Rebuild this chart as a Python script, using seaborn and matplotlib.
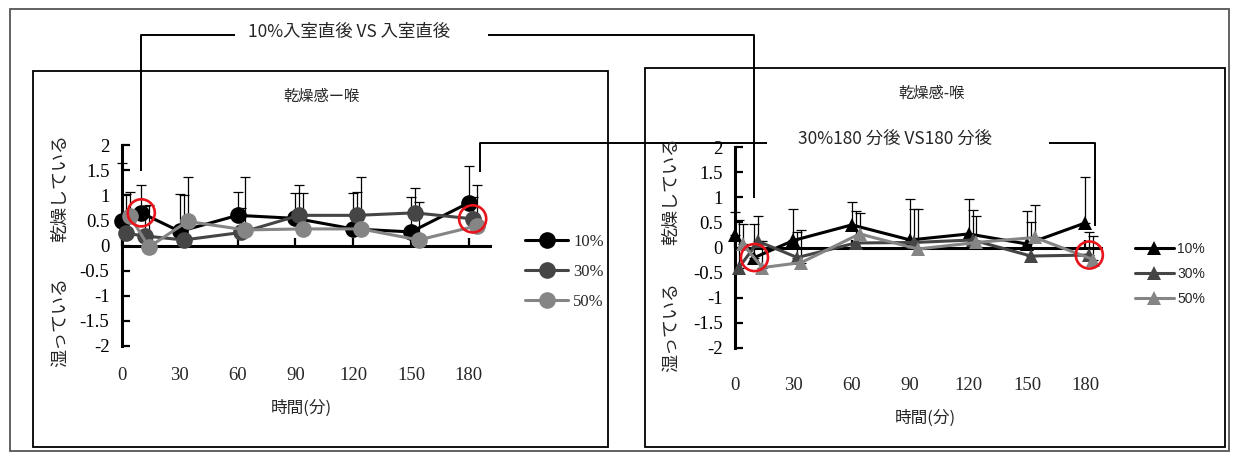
import numpy as np
import pandas as pd
import matplotlib
matplotlib.use("Agg")
import matplotlib.pyplot as plt
from matplotlib.lines import Line2D
from matplotlib.patches import Rectangle
import seaborn as sns

# ---- data -----------------------------------------------------------------
groups = ["10%", "30%", "50%"]

# measurement times (min); the three humidity groups are slightly staggered
time_10 = [0, 10, 30, 60, 90, 120, 150, 180]
time_30 = [2, 12, 32, 62, 92, 122, 152, 182]
time_50 = [4, 14, 34, 64, 94, 124, 154, 184]

# left panel (circles): mean score and SD
left_10 = [0.48, 0.65, 0.28, 0.60, 0.54, 0.33, 0.27, 0.85]
left_30 = [0.24, 0.19, 0.11, 0.26, 0.60, 0.60, 0.65, 0.53]
left_50 = [0.59, -0.03, 0.48, 0.31, 0.33, 0.33, 0.11, 0.39]
left_sd_10 = [1.16, 0.56, 0.74, 0.47, 0.50, 0.72, 0.70, 0.74]
left_sd_30 = [0.78, 0.60, 0.90, 0.48, 0.61, 0.47, 0.50, 0.44]
left_sd_50 = [0.48, 0.84, 0.88, 1.05, 0.71, 1.03, 0.76, 0.81]

# right panel (triangles): mean score and SD
right_10 = [0.25, -0.20, 0.14, 0.45, 0.15, 0.27, 0.07, 0.49]
right_30 = [-0.40, 0.12, -0.20, 0.09, 0.10, 0.15, -0.17, -0.15]
right_50 = [0.07, -0.40, -0.30, 0.27, -0.03, 0.10, 0.20, -0.24]
right_sd_10 = [0.46, 0.67, 0.63, 0.45, 0.81, 0.70, 0.66, 0.92]
right_sd_30 = [0.94, 0.50, 0.50, 0.64, 0.67, 0.60, 0.68, 0.45]
right_sd_50 = [0.40, 0.53, 0.65, 0.42, 0.80, 0.52, 0.65, 0.47]

x_ticks = [0, 30, 60, 90, 120, 150, 180]
y_ticks = [-2, -1.5, -1, -0.5, 0, 0.5, 1, 1.5, 2]

panel_title_left = "乾燥感ー喉"
panel_title_right = "乾燥感-喉"
x_label = "時間(分)"
y_label_dry = "乾燥している"
y_label_wet = "湿っている"
note_entry = "10%入室直後 VS 入室直後"
note_180 = "30%180 分後 VS180 分後"

times = {"10%": time_10, "30%": time_30, "50%": time_50}
left_df = pd.concat([
    pd.DataFrame({"group": g, "time": times[g], "score": m, "sd": s})
    for g, m, s in zip(groups, [left_10, left_30, left_50],
                       [left_sd_10, left_sd_30, left_sd_50])
])
right_df = pd.concat([
    pd.DataFrame({"group": g, "time": times[g], "score": m, "sd": s})
    for g, m, s in zip(groups, [right_10, right_30, right_50],
                       [right_sd_10, right_sd_30, right_sd_50])
])

# ---- style ----------------------------------------------------------------
sns.set_style("white")
plt.rcParams["font.family"] = ["Noto Sans CJK JP", "DejaVu Sans"]
plt.rcParams["axes.unicode_minus"] = False
SERIF = ["Liberation Serif", "DejaVu Serif"]
SANS = ["Liberation Sans", "DejaVu Sans"]
CJK = ["Noto Sans CJK JP", "DejaVu Sans"]
palette = {"10%": "#000000", "30%": "#454545", "50%": "#858585"}

W, H = 1238, 459
fig = plt.figure(figsize=(W / 100, H / 100), dpi=100)
fig.patch.set_facecolor("white")


def P(x, y):
    """pixel position (from top-left) -> figure fraction"""
    return x / W, 1 - y / H


def rect(left, top, right, bottom):
    return [left / W, 1 - bottom / H, (right - left) / W, (bottom - top) / H]


def fig_line(xs, ys, **kw):
    pts = [P(x, y) for x, y in zip(xs, ys)]
    fig.add_artist(Line2D([p[0] for p in pts], [p[1] for p in pts],
                          transform=fig.transFigure, color="black",
                          lw=1.4, solid_capstyle="butt", **kw))


def to_px(ax, x, y):
    dx, dy = ax.transData.transform((x, y))
    return dx, H - dy


def draw_panel(ax, df, marker, ms, xmax, label_drop):
    ax.set_xlim(0, xmax)
    ax.set_ylim(-2, 2)
    for g in groups:
        d = df[df["group"] == g]
        eb = ax.errorbar(d["time"], d["score"],
                         yerr=[np.zeros(len(d)), d["sd"]], fmt="none",
                         ecolor="black", elinewidth=0.9, capsize=3.6,
                         capthick=0.9, zorder=2)
        for art in eb.get_children():
            art.set_clip_on(False)
    for i, g in enumerate(groups):
        d = df[df["group"] == g]
        sns.lineplot(data=d, x="time", y="score", ax=ax, color=palette[g],
                     marker=marker, markersize=ms, markeredgewidth=0,
                     lw=2.2, legend=False, zorder=3 + i, clip_on=False)
    for side in ["top", "right"]:
        ax.spines[side].set_visible(False)
    ax.spines["left"].set_linewidth(2.2)
    ax.spines["left"].set_color("black")
    ax.spines["bottom"].set_position(("data", 0))
    ax.spines["bottom"].set_linewidth(2.2)
    ax.spines["bottom"].set_color("black")
    ax.set_yticks(y_ticks)
    ax.set_yticklabels([f"{v:g}" for v in y_ticks], fontfamily=SERIF,
                       fontsize=13.5)
    ax.tick_params(axis="y", direction="in", length=6, width=1.6,
                   pad=9, colors="black", left=True)
    ax.set_xticks(x_ticks)
    ax.tick_params(axis="x", direction="in", length=6, width=1.6,
                   labelbottom=False, bottom=True, colors="black")
    for v in x_ticks:
        ax.annotate(str(v), xy=(v, -2), xycoords="data",
                    xytext=(0, -label_drop * 0.72), textcoords="offset points",
                    ha="center", va="center", fontfamily=SERIF, fontsize=13.5)
    ax.set_xlabel("")
    ax.set_ylabel("")
    ax.patch.set_alpha(0)


ax1 = fig.add_axes(rect(122, 145, 490, 346))
ax2 = fig.add_axes(rect(735, 147, 1101, 348))
draw_panel(ax1, left_df, "o", 12, 191, 30)
draw_panel(ax2, right_df, "^", 10, 188, 37)

# highlighted points
for ax, df, picks in [(ax1, left_df, [("10%", 10), ("30%", 182)]),
                      (ax2, right_df, [("10%", 10), ("30%", 182)])]:
    for g, t in picks:
        row = df[(df["group"] == g) & (df["time"] == t)]
        ax.scatter(row["time"], row["score"], s=380, facecolors="none",
                   edgecolors="#e8141b", linewidths=1.9, zorder=10,
                   clip_on=False)

# panel frames and outer frame
fig.add_artist(Rectangle(P(10, 451), 1219 / W, 442 / H, fill=False,
                         ec="#555555", lw=1.3, transform=fig.transFigure))
fig.add_artist(Rectangle(P(33, 447), 575 / W, 376 / H, fill=False,
                         ec="black", lw=1.3, transform=fig.transFigure))
fig.add_artist(Rectangle(P(645, 447), 580 / W, 379 / H, fill=False,
                         ec="black", lw=1.3, transform=fig.transFigure))

# panel titles
fig.text(*P(321, 96), panel_title_left, ha="center", va="center",
         fontsize=11, fontfamily=CJK)
fig.text(*P(932, 93), panel_title_right, ha="center", va="center",
         fontsize=11, fontfamily=CJK)

# axis labels
for xc, yd, yw, xl, yl in [(60, 188, 322, 301, 408), (671, 191, 327, 925, 418)]:
    fig.text(*P(xc, yd), y_label_dry, rotation=90, ha="center", va="center",
             fontsize=13, fontfamily=CJK)
    fig.text(*P(xc, yw), y_label_wet, rotation=90, ha="center", va="center",
             fontsize=13, fontfamily=CJK)
    fig.text(*P(xl, yl), x_label, ha="center", va="center", fontsize=12,
             fontfamily=CJK)

# legends
h_left = [Line2D([], [], color=palette[g], lw=2.2, marker="o", ms=12,
                 markeredgewidth=0) for g in groups]
h_right = [Line2D([], [], color=palette[g], lw=2.2, marker="^", ms=10,
                  markeredgewidth=0) for g in groups]
fig.legend(h_left, groups, loc="center left", bbox_to_anchor=P(525, 272),
           frameon=False, borderpad=0, borderaxespad=0, handlelength=2.6,
           handletextpad=0.3, labelspacing=0.85,
           prop={"family": SERIF, "size": 12})
fig.legend(h_right, groups, loc="center left", bbox_to_anchor=P(1135, 274),
           frameon=False, borderpad=0, borderaxespad=0, handlelength=2.8,
           handletextpad=0.25, labelspacing=0.8,
           prop={"family": SANS, "size": 10})

# comparison brackets
xa, _ = to_px(ax1, 10, 0)
xb, _ = to_px(ax2, 10, 0)
fig_line([xa, xa, 235], [171, 35, 35])
fig_line([488, xb, xb], [35, 35, 198])
fig.text(*P(349, 32), note_entry, ha="center", va="center", fontsize=12.5,
         fontfamily=CJK)

xc, _ = to_px(ax1, 186, 0)
xd, _ = to_px(ax2, 185, 0)
fig_line([xc, xc, 767], [172, 143, 143])
fig_line([1049, xd, xd], [143, 143, 226])
fig.text(*P(895, 139), note_180, ha="center", va="center", fontsize=12.5,
         fontfamily=CJK)

fig.savefig("out.png", dpi=100, facecolor="white")
